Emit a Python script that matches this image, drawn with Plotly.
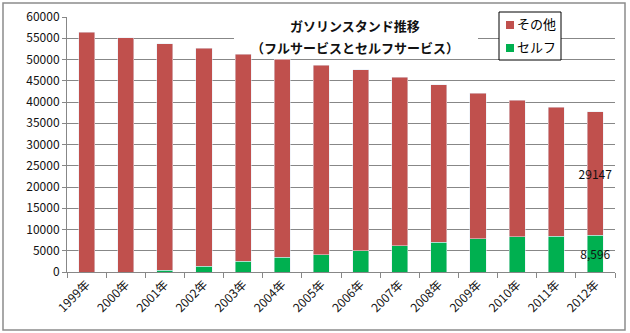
import plotly.graph_objects as go

years = ["1999年", "2000年", "2001年", "2002年", "2003年", "2004年", "2005年",
         "2006年", "2007年", "2008年", "2009年", "2010年", "2011年", "2012年"]
self_service = [0, 0, 413, 1353, 2523, 3423, 4104, 4956, 6162, 7023, 7774, 8296, 8449, 8596]
other = [56444, 55153, 53291, 51239, 48771, 46644, 44568, 42628, 39630, 37034, 34316, 32061, 30328, 29147]
self_labels = [""] * 13 + ["8,596"]
other_labels = [""] * 13 + ["29147"]
yticks = list(range(0, 60001, 5000))
series_names = ["その他", "セルフ"]
series_colors = ["#C0504D", "#00B050"]
title_lines = ["ガソリンスタンド推移", "（フルサービスとセルフサービス）"]

FONT = "Noto Sans CJK JP"
GRID = "#878787"

fig = go.Figure()
fig.add_trace(go.Bar(
    x=years, y=self_service, name=series_names[1], marker_color=series_colors[1],
    text=self_labels, textposition="inside", insidetextanchor="middle", textangle=0,
    constraintext="none", textfont=dict(color="#111111", size=12, family=FONT),
))
fig.add_trace(go.Bar(
    x=years, y=other, name=series_names[0], marker_color=series_colors[0],
    text=other_labels, textposition="inside", insidetextanchor="middle", textangle=0,
    constraintext="none", textfont=dict(color="#111111", size=12, family=FONT),
))

L, R, T, B = 67, 15, 17, 61
W, H = 630, 333
pw, ph = W - L - R, H - T - B

def px(x):
    return (x - L) / pw

def py(y):
    return (H - B - y) / ph

shapes = [
    dict(type="rect", xref="paper", yref="paper",
         x0=px(3), x1=px(625), y0=py(330), y1=py(3),
         line=dict(color="#8c8c8c", width=1.5), layer="below"),
    # title background box
    dict(type="rect", xref="paper", yref="paper",
         x0=px(234), x1=px(478), y0=py(50), y1=py(14),
         line=dict(width=0), fillcolor="white", layer="above"),
    # legend box
    dict(type="rect", xref="paper", yref="paper",
         x0=px(499), x1=px(561), y0=py(60), y1=py(12),
         line=dict(color="#000000", width=1), fillcolor="white", layer="above"),
]
annotations = []
for i, line in enumerate(title_lines):
    annotations.append(dict(
        xref="paper", yref="paper", x=px(355), y=py(26 + i * 21),
        xanchor="center", yanchor="middle", text="<b>" + line + "</b>",
        showarrow=False, font=dict(size=13, family=FONT, color="#111111"),
    ))
for i, (nm, col) in enumerate(zip(series_names, series_colors)):
    cy = 25 + i * 23
    shapes.append(dict(type="rect", xref="paper", yref="paper",
                       x0=px(506), x1=px(514), y0=py(cy + 4), y1=py(cy - 4),
                       line=dict(width=0), fillcolor=col, layer="above"))
    annotations.append(dict(xref="paper", yref="paper", x=px(515), y=py(cy - 1.5),
                            xanchor="left", yanchor="middle", text=nm, showarrow=False,
                            font=dict(size=13, family=FONT, color="#000000")))

fig.update_layout(
    width=W, height=H, barmode="stack", bargap=0.59,
    margin=dict(l=L, r=R, t=T, b=B, autoexpand=False),
    paper_bgcolor="white", plot_bgcolor="white",
    font=dict(family=FONT, color="#111111", size=12),
    showlegend=False,
    xaxis=dict(
        type="category", tickangle=-45, ticks="outside", tickson="boundaries",
        ticklen=5, tickcolor=GRID, showline=True, linecolor=GRID, linewidth=1,
        showgrid=False, tickfont=dict(size=12, family=FONT), automargin=False,
    ),
    yaxis=dict(
        range=[0, 60000], tickvals=yticks, ticktext=[str(v) for v in yticks],
        ticks="outside", ticklen=4, tickcolor=GRID,
        showline=True, linecolor=GRID, linewidth=1,
        showgrid=True, gridcolor=GRID, gridwidth=1, zeroline=False,
        tickfont=dict(size=12, family=FONT), automargin=False,
    ),
    annotations=annotations,
    shapes=shapes,
)

fig.write_html("out.html")
